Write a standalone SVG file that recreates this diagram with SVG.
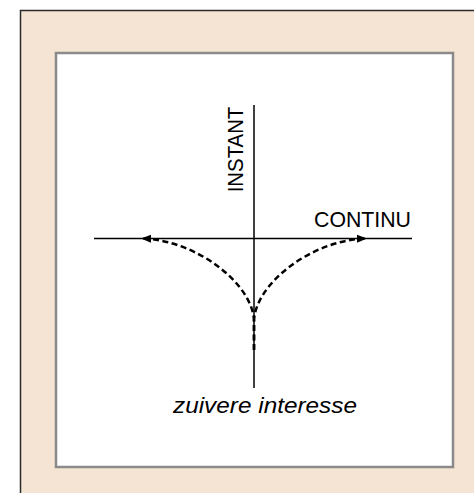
<svg xmlns="http://www.w3.org/2000/svg" width="474" height="493" viewBox="0 0 474 493">
  <style>
    .axis { stroke: #000; stroke-width: 1.5; fill: none; }
    .flow { stroke: #000; stroke-width: 2.5; fill: none; stroke-dasharray: 6 3.5; }
    .lbl { font-family: "Liberation Sans", Arial, sans-serif; font-size: 21.5px; fill: #000; }
  </style>
  <defs>
    <marker id="arr" markerUnits="userSpaceOnUse" markerWidth="11" markerHeight="9" refX="10" refY="4.5" orient="auto">
      <path d="M0,0.5 L10,4.5 L0,8.5 z" fill="#000"/>
    </marker>
  </defs>
  <g id="frame">
    <rect x="20.5" y="10.5" width="470" height="500" fill="#F5E4D3" stroke="#2b2b2b" stroke-width="1.5"/>
    <rect x="56" y="53" width="397" height="414" fill="#fff" stroke="#8a8a8a" stroke-width="2.5"/>
  </g>
  <g id="axes">
    <line class="axis" x1="254" y1="105" x2="254" y2="388"/>
    <line class="axis" x1="94" y1="238.5" x2="412" y2="238.5"/>
  </g>
  <g id="connectors">
    <path class="flow" d="M254,350 L254,322 C254,285 197,239.5 141,238.5" marker-end="url(#arr)"/>
    <path class="flow" d="M254,350 L254,322 C254,285 311,239.5 367,238.5" marker-end="url(#arr)"/>
  </g>
  <g id="label-instant">
    <text class="lbl" x="0" y="0" transform="translate(243,192.3) rotate(-90)" textLength="85.6" lengthAdjust="spacingAndGlyphs">INSTANT</text>
  </g>
  <g id="label-continu">
    <text class="lbl" x="314" y="227" textLength="97" lengthAdjust="spacingAndGlyphs">CONTINU</text>
  </g>
  <g id="label-interesse">
    <text class="lbl" x="173" y="413" font-style="italic" style="font-size:22.5px" textLength="184" lengthAdjust="spacingAndGlyphs">zuivere interesse</text>
  </g>
</svg>
